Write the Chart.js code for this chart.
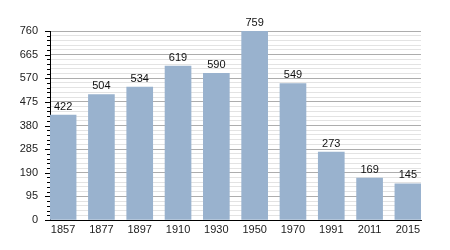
<!DOCTYPE html>
<html>
<head>
<meta charset="utf-8">
<script src="https://cdn.jsdelivr.net/npm/chart.js@4/dist/chart.umd.min.js"></script>
<style>
  html, body { margin: 0; padding: 0; background: #fff; }
  #wrap { width: 450px; height: 250px; }
</style>
</head>
<body>
<div id="wrap"><canvas id="chart"></canvas></div>
<script>
// data
const years = ["1857", "1877", "1897", "1910", "1930", "1950", "1970", "1991", "2011", "2015"];
const population = [422, 504, 534, 619, 590, 759, 549, 273, 169, 145];
const yMax = 760;
const yMajorStep = 95;
const yMinorStep = 19;

const BAR = "rgb(153,178,206)";
const FONT = "'Liberation Sans', Arial, sans-serif";

// value labels above each bar
const barLabels = {
  id: "barLabels",
  afterDatasetsDraw(chart) {
    const ctx = chart.ctx;
    const meta = chart.getDatasetMeta(0);
    ctx.save();
    ctx.font = "11px " + FONT;
    ctx.fillStyle = "#111";
    ctx.textAlign = "center";
    ctx.textBaseline = "bottom";
    meta.data.forEach((el, i) => {
      ctx.fillText(String(population[i]), el.x, el.y - 3);
    });
    ctx.restore();
  }
};

// major / minor tick marks on the left of the y axis
const yTickMarks = {
  id: "yTickMarks",
  afterDraw(chart) {
    const y = chart.scales.y;
    const ctx = chart.ctx;
    const x0 = chart.chartArea.left;
    ctx.save();
    ctx.strokeStyle = "#000";
    ctx.lineWidth = 1;
    y.ticks.forEach(t => {
      const py = Math.round(y.getPixelForValue(t.value)) + 0.5;
      const len = t.value % yMajorStep === 0 ? 5 : 3;
      ctx.beginPath();
      ctx.moveTo(x0 - len, py);
      ctx.lineTo(x0, py);
      ctx.stroke();
    });
    ctx.restore();
  }
};

new Chart(document.getElementById("chart"), {
  type: "bar",
  data: {
    datasets: [{
      data: population.map((v, i) => ({ x: i, y: v })),
      backgroundColor: BAR,
      borderWidth: 0,
      barThickness: 26
    }]
  },
  plugins: [barLabels, yTickMarks],
  options: {
    responsive: true,
    maintainAspectRatio: false,
    animation: false,
    layout: { padding: { left: 0, right: 29, top: 31, bottom: 0 } },
    plugins: { legend: { display: false }, tooltip: { enabled: false } },
    scales: {
      x: {
        type: "linear",
        offset: false,
        min: -0.342,
        max: years.length - 1 + 0.342,
        afterBuildTicks: s => { s.ticks = years.map((_, i) => ({ value: i })); },
        afterFit: s => { s.height = 30; },
        grid: { display: true, drawOnChartArea: false, drawTicks: false, color: "transparent", offset: false },
        border: { display: true, color: "#000", width: 1 },
        ticks: {
          autoSkip: false,
          maxRotation: 0,
          padding: 3,
          color: "#222",
          font: { family: FONT, size: 11 },
          callback: v => years[v] ?? ""
        }
      },
      y: {
        min: 0,
        max: yMax,
        afterFit: s => { s.width = 50; },
        grid: {
          drawTicks: false,
          color: c => (c.tick && c.tick.value % yMajorStep === 0) ? "#adadad" : "#e3e3e3",
          lineWidth: 1
        },
        border: { display: true, color: "#000", width: 1 },
        ticks: {
          stepSize: yMinorStep,
          autoSkip: false,
          padding: 12,
          color: "#222",
          font: { family: FONT, size: 11 },
          callback: v => (v % yMajorStep === 0 ? v : "")
        }
      }
    }
  }
});
</script>
</body>
</html>
